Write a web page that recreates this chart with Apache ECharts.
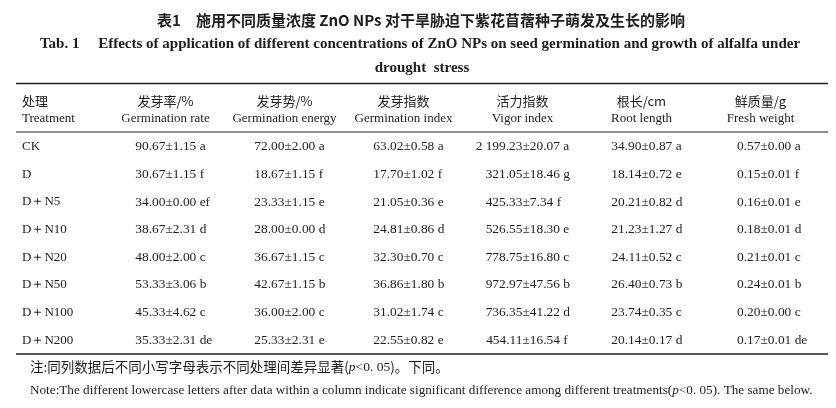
<!DOCTYPE html>
<html lang="zh">

<head>
  <meta charset="UTF-8">
  <title>Table 1</title>
  <script src="https://cdn.jsdelivr.net/npm/echarts@6/dist/echarts.min.js"></script>
  <style>
    html, body { margin: 0; padding: 0; background: #fff; }
    #main { width: 836px; height: 408px; }
  </style>
</head>

<body>
  <div id="main"></div>
  <script type="text/javascript">
    // 表头与处理
    var treatments = ['CK', 'D', 'D＋N5', 'D＋N10', 'D＋N20', 'D＋N50', 'D＋N100', 'D＋N200'];
    var colCn = ['发芽率/%', '发芽势/%', '发芽指数', '活力指数', '根长/cm', '鲜质量/g'];
    var colEn = ['Germination rate', 'Germination energy', 'Germination index', 'Vigor index', 'Root length', 'Fresh weight'];

    // 发芽率
    var rateMean = [90.67, 30.67, 34.00, 38.67, 48.00, 53.33, 45.33, 35.33];
    var rateSd = [1.15, 1.15, 0.00, 2.31, 2.00, 3.06, 4.62, 2.31];
    var rateSig = ['a', 'f', 'ef', 'd', 'c', 'b', 'c', 'de'];
    // 发芽势
    var energyMean = [72.00, 18.67, 23.33, 28.00, 36.67, 42.67, 36.00, 25.33];
    var energySd = [2.00, 1.15, 1.15, 0.00, 1.15, 1.15, 2.00, 2.31];
    var energySig = ['a', 'f', 'e', 'd', 'c', 'b', 'c', 'e'];
    // 发芽指数
    var indexMean = [63.02, 17.70, 21.05, 24.81, 32.30, 36.86, 31.02, 22.55];
    var indexSd = [0.58, 1.02, 0.36, 0.86, 0.70, 1.80, 1.74, 0.82];
    var indexSig = ['a', 'f', 'e', 'd', 'c', 'b', 'c', 'e'];
    // 活力指数
    var vigorMean = [2199.23, 321.05, 425.33, 526.55, 778.75, 972.97, 736.35, 454.11];
    var vigorSd = [20.07, 18.46, 7.34, 18.30, 16.80, 47.56, 41.22, 16.54];
    var vigorSig = ['a', 'g', 'f', 'e', 'c', 'b', 'd', 'f'];
    // 根长
    var rootMean = [34.90, 18.14, 20.21, 21.23, 24.11, 26.40, 23.74, 20.14];
    var rootSd = [0.87, 0.72, 0.82, 1.27, 0.52, 0.73, 0.35, 0.17];
    var rootSig = ['a', 'e', 'd', 'd', 'c', 'b', 'c', 'd'];
    // 鲜质量
    var freshMean = [0.57, 0.15, 0.16, 0.18, 0.21, 0.24, 0.20, 0.17];
    var freshSd = [0.00, 0.01, 0.01, 0.01, 0.01, 0.01, 0.00, 0.01];
    var freshSig = ['a', 'f', 'e', 'd', 'c', 'b', 'c', 'de'];

    var columns = [
      [rateMean, rateSd, rateSig],
      [energyMean, energySd, energySig],
      [indexMean, indexSd, indexSig],
      [vigorMean, vigorSd, vigorSig],
      [rootMean, rootSd, rootSig],
      [freshMean, freshSd, freshSig]
    ];

    var ink = '#1e1c1d';
    var serif = '"Liberation Serif", "Times New Roman", serif';
    var cjk = '"Noto Sans CJK SC", sans-serif';

    // 千位用空格分隔
    function fmt(v) {
      var s = v.toFixed(2);
      var parts = s.split('.');
      var n = parts[0].replace(/\B(?=(\d{3})+(?!\d))/g, ' ');
      return n + '.' + parts[1];
    }

    var cells = [];
    columns.forEach(function(col, c) {
      col[0].forEach(function(m, r) {
        cells.push([colEn[c], treatments[r], fmt(m), '±' + col[1][r].toFixed(2) + ' ' + col[2][r]]);
      });
    });

    var myChart = echarts.init(document.getElementById('main'));

    var option = {
      backgroundColor: '#fff',
      animation: false,
      grid: {
        left: 106,
        right: 16,
        top: 133,
        bottom: 54
      },
      xAxis: {
        type: 'category',
        position: 'top',
        data: colEn,
        axisLine: { show: false },
        axisTick: { show: false },
        splitLine: { show: false },
        axisLabel: {
          interval: 0,
          margin: 5,
          formatter: function(val, i) {
            return '{cn|' + colCn[i] + '}\n{en|' + val + '}';
          },
          rich: {
            cn: { fontFamily: cjk, fontSize: 13, color: ink, lineHeight: 18 },
            en: { fontFamily: serif, fontSize: 13, color: ink, lineHeight: 18 }
          }
        }
      },
      yAxis: {
        type: 'category',
        inverse: true,
        data: treatments,
        axisLine: { show: false },
        axisTick: { show: false },
        splitLine: { show: false },
        axisLabel: {
          align: 'left',
          margin: 84,
          fontFamily: serif,
          fontSize: 13,
          color: ink
        }
      },
      series: [{
        type: 'custom',
        data: cells,
        encode: { x: 0, y: 1 },
        renderItem: function(params, api) {
          var d = cells[params.dataIndex];
          var pt = api.coord([api.value(0), api.value(1)]);
          var base = { fontFamily: serif, fontSize: 13.4, fill: ink, verticalAlign: 'middle' };
          return {
            type: 'group',
            children: [
              { type: 'text', x: pt[0], y: pt[1], style: Object.assign({ text: d[2], align: 'right' }, base) },
              { type: 'text', x: pt[0], y: pt[1], style: Object.assign({ text: d[3], align: 'left' }, base) }
            ]
          };
        }
      }],
      graphic: [
        {
          type: 'text', x: 421, y: 20,
          style: { text: '表1　施用不同质量浓度 ZnO NPs 对干旱胁迫下紫花苜蓿种子萌发及生长的影响', fontFamily: cjk, fontWeight: 'bold', fontSize: 15, fill: ink, align: 'center', verticalAlign: 'middle' }
        },
        {
          type: 'text', x: 420, y: 44,
          style: { text: 'Tab. 1\u2003 Effects of application of different concentrations of ZnO NPs on seed germination and growth of alfalfa under', fontFamily: serif, fontWeight: 'bold', fontSize: 15, fill: ink, align: 'center', verticalAlign: 'middle' }
        },
        {
          type: 'text', x: 422, y: 68,
          style: { text: 'drought  stress', fontFamily: serif, fontWeight: 'bold', fontSize: 15, fill: ink, align: 'center', verticalAlign: 'middle' }
        },
        // 第一列表头
        {
          type: 'text', x: 22, y: 101,
          style: { text: '处理', fontFamily: cjk, fontSize: 13, fill: ink, verticalAlign: 'middle' }
        },
        {
          type: 'text', x: 22, y: 119,
          style: { text: 'Treatment', fontFamily: serif, fontSize: 13, fill: ink, verticalAlign: 'middle' }
        },
        // 三线表
        { type: 'line', shape: { x1: 16, y1: 83.5, x2: 828, y2: 83.5 }, style: { stroke: ink, lineWidth: 1.4 } },
        { type: 'line', shape: { x1: 16, y1: 132, x2: 828, y2: 132 }, style: { stroke: ink, lineWidth: 1 } },
        { type: 'line', shape: { x1: 16, y1: 354, x2: 828, y2: 354 }, style: { stroke: ink, lineWidth: 1.4 } },
        {
          type: 'text', x: 30, y: 367,
          style: {
            text: '{c|注:同列数据后不同小写字母表示不同处理间差异显著(}{i|p}{s|<0. 05}{c|)。下同。}',
            verticalAlign: 'middle',
            rich: {
              c: { fontFamily: cjk, fontSize: 13.5, fill: ink },
              i: { fontFamily: serif, fontStyle: 'italic', fontSize: 13.5, fill: ink },
              s: { fontFamily: serif, fontSize: 13.5, fill: ink }
            }
          }
        },
        {
          type: 'text', x: 30, y: 391,
          style: {
            text: '{s|Note:The different lowercase letters after data within a column indicate significant difference among different treatments(}{i|p}{s|<0. 05). The same below.}',
            verticalAlign: 'middle',
            rich: {
              i: { fontFamily: serif, fontStyle: 'italic', fontSize: 13.2, fill: ink },
              s: { fontFamily: serif, fontSize: 13.2, fill: ink }
            }
          }
        }
      ]
    };

    myChart.setOption(option);

    window.onresize = function() {
      myChart.resize();
    };
  </script>
</body>

</html>
